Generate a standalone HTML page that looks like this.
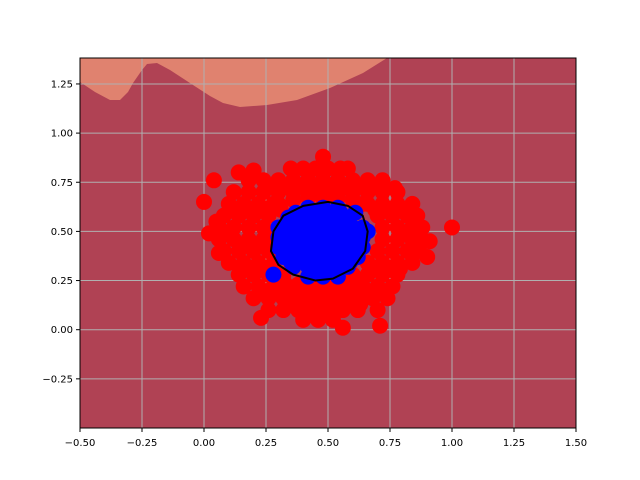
<!DOCTYPE html>
<html><head><meta charset="utf-8"><style>
body{margin:0;background:#fff;}
svg{display:block;font-family:"DejaVu Sans","Liberation Sans",sans-serif;}
</style></head><body>
<svg id="chart" width="640" height="480" viewBox="0 0 640 480" xmlns="http://www.w3.org/2000/svg">
<defs><clipPath id="clip"><rect x="80" y="58" width="496" height="370"/></clipPath></defs>
<rect x="0" y="0" width="640" height="480" fill="#fff"/>
<g clip-path="url(#clip)">
<rect x="80" y="58" width="496" height="370" fill="#b04254"/>
<path fill="#e0826f" d="M80,58 L80,82 L95,92 L110,100 L120,100 L128,92 L133,83 L142,70 L147,64 L157,63 L170,70 L193,85 L210,96 L223,103 L240,107 L267,105 L297,100 L330,88 L363,73 L387,58 Z"/>
<g id="grid"></g>
<g id="marks"></g>
</g>
<rect x="80" y="58" width="496" height="370" fill="none" stroke="#000" stroke-width="1"/>
<g id="axes"></g>
</svg>
<script>
const xTicks=[-0.5,-0.25,0,0.25,0.5,0.75,1,1.25,1.5];
const xTickLabels=["−0.50","−0.25","0.00","0.25","0.50","0.75","1.00","1.25","1.50"];
const yTicks=[-0.25,0,0.25,0.5,0.75,1,1.25];
const yTickLabels=["−0.25","0.00","0.25","0.50","0.75","1.00","1.25"];
const redX=[0.0,0.04,1.0,0.14,0.2,0.9,0.91,0.02,0.05,0.06,0.71,0.56,0.23,0.77,0.48,
0.35,0.4,0.45,0.5,0.55,0.58,
0.18,0.24,0.3,0.36,0.42,0.48,0.54,0.6,0.66,0.72,
0.12,0.18,0.24,0.3,0.36,0.42,0.48,0.54,0.6,0.66,0.72,0.78,
0.1,0.16,0.22,0.28,0.66,0.72,0.78,0.84,
0.08,0.14,0.2,0.26,0.7,0.76,0.82,0.86,
0.06,0.12,0.18,0.24,0.72,0.78,0.84,0.88,
0.06,0.12,0.18,0.24,0.72,0.78,0.84,0.88,
0.08,0.14,0.2,0.26,0.7,0.76,0.82,0.86,
0.1,0.16,0.22,0.28,0.66,0.72,0.78,0.84,
0.14,0.2,0.26,0.32,0.6,0.66,0.72,0.78,
0.16,0.22,0.28,0.34,0.4,0.46,0.52,0.58,0.64,0.7,0.76,
0.2,0.26,0.32,0.38,0.44,0.5,0.56,0.62,0.68,0.74,
0.26,0.32,0.38,0.44,0.5,0.56,0.62,0.7,
0.4,0.46,0.52,
0.13,0.19,0.25,0.31,0.69,0.75,0.81,0.15,0.21,0.27,0.67,0.73,0.79,0.11,0.17,0.23,0.29,0.81,0.87,
0.3,0.36,0.42,0.48,0.54,0.6,0.64,0.32,0.38,0.44,0.5,0.56,0.62,
0.27,0.33,0.39,0.45,0.51,0.57,0.63,0.69,0.23,0.29,0.35,0.41,0.47,0.53,0.59,0.65,0.71,0.33,0.39,0.45,0.51,0.57,0.63];
const redY=[0.65,0.76,0.52,0.8,0.81,0.37,0.45,0.49,0.55,0.39,0.02,0.01,0.06,0.72,0.88,
0.82,0.82,0.82,0.82,0.82,0.82,
0.76,0.76,0.76,0.76,0.76,0.76,0.76,0.76,0.76,0.76,
0.70,0.70,0.70,0.70,0.70,0.70,0.70,0.70,0.70,0.70,0.70,0.70,
0.64,0.64,0.64,0.64,0.64,0.64,0.64,0.64,
0.58,0.58,0.58,0.58,0.58,0.58,0.58,0.58,
0.52,0.52,0.52,0.52,0.52,0.52,0.52,0.52,
0.46,0.46,0.46,0.46,0.46,0.46,0.46,0.46,
0.40,0.40,0.40,0.40,0.40,0.40,0.40,0.40,
0.34,0.34,0.34,0.34,0.34,0.34,0.34,0.34,
0.28,0.28,0.28,0.28,0.28,0.28,0.28,0.28,
0.22,0.22,0.22,0.22,0.22,0.22,0.22,0.22,0.22,0.22,0.22,
0.16,0.16,0.16,0.16,0.16,0.16,0.16,0.16,0.16,0.16,
0.10,0.10,0.10,0.10,0.10,0.10,0.10,0.10,
0.05,0.05,0.05,
0.61,0.61,0.61,0.61,0.61,0.61,0.61,0.31,0.31,0.31,0.31,0.31,0.31,0.49,0.43,0.43,0.49,0.49,0.43,
0.64,0.66,0.67,0.67,0.67,0.66,0.64,0.25,0.23,0.23,0.23,0.23,0.25,
0.73,0.73,0.73,0.73,0.73,0.73,0.73,0.73,0.19,0.19,0.19,0.19,0.19,0.19,0.19,0.19,0.19,0.13,0.13,0.13,0.13,0.13,0.13];
const blueX=[0.42,0.48,0.54,0.34,0.4,0.46,0.52,0.58,
0.3,0.36,0.42,0.48,0.54,0.6,0.64,0.3,0.36,0.42,0.48,0.54,0.6,0.64,0.3,0.36,0.42,0.48,0.54,0.6,0.64,
0.32,0.38,0.44,0.5,0.56,0.62,0.36,0.42,0.48,0.54,0.58,0.42,0.48,0.54,0.66,0.28,
0.37,0.43,0.49,0.55,0.61,0.33,0.39,0.45,0.51,0.57,0.63,0.33,0.39,0.45,0.51,0.57,0.63,0.35,0.41,0.47,0.53,0.59,0.45,0.51];
const blueY=[0.62,0.62,0.62,0.57,0.57,0.57,0.57,0.57,
0.52,0.52,0.52,0.52,0.52,0.52,0.52,0.47,0.47,0.47,0.47,0.47,0.47,0.47,0.42,0.42,0.42,0.42,0.42,0.42,0.42,
0.37,0.37,0.37,0.37,0.37,0.37,0.32,0.32,0.32,0.32,0.32,0.27,0.27,0.27,0.5,0.28,
0.595,0.595,0.595,0.595,0.595,0.495,0.495,0.495,0.495,0.495,0.495,0.445,0.445,0.445,0.445,0.445,0.445,0.345,0.345,0.345,0.345,0.345,0.295,0.295];
const contourX=[0.27,0.28,0.32,0.4,0.5,0.58,0.64,0.66,0.65,0.6,0.52,0.45,0.36,0.3];
const contourY=[0.4,0.5,0.58,0.63,0.65,0.63,0.58,0.5,0.4,0.31,0.26,0.25,0.28,0.33];

const NS="http://www.w3.org/2000/svg";
const X0=-0.5,X1=1.5,Y0=-0.5,Y1=1.382,L=80,R=576,T=58,B=428;
const sx=v=>L+(v-X0)/(X1-X0)*(R-L);
const sy=v=>B-(v-Y0)/(Y1-Y0)*(B-T);
function mk(tag,attrs,parent){const e=document.createElementNS(NS,tag);for(const k in attrs)e.setAttribute(k,attrs[k]);parent.appendChild(e);return e;}
const grid=document.getElementById('grid'),marks=document.getElementById('marks'),axes=document.getElementById('axes');
xTicks.forEach((t,i)=>{
 const g=mk('line',{x1:sx(t),x2:sx(t),y1:T,y2:B,stroke:'#b0b0b0','stroke-width':1},grid);
 
 
 const k=mk('line',{x1:sx(t),x2:sx(t),y1:B,y2:B+4,stroke:'#000'},axes);
 
 
 const tx=mk('text',{x:sx(t),y:B+18,'font-size':10,'text-anchor':'middle',fill:'#000'},axes);
 tx.textContent=xTickLabels[i];
 
 
});
yTicks.forEach((t,i)=>{
 const g=mk('line',{x1:L,x2:R,y1:sy(t),y2:sy(t),stroke:'#b0b0b0','stroke-width':1},grid);
 
 
 const k=mk('line',{x1:L-4,x2:L,y1:sy(t),y2:sy(t),stroke:'#000'},axes);
 
 
 const tx=mk('text',{x:L-7,y:sy(t)+3.5,'font-size':10,'text-anchor':'end',fill:'#000'},axes);
 tx.textContent=yTickLabels[i];
 
 
});
redX.forEach((x,i)=>{
 const c=mk('circle',{cx:sx(x),cy:sy(redY[i]),r:8,fill:'#ff0000'},marks);
 
 
});
blueX.forEach((x,i)=>{
 const c=mk('circle',{cx:sx(x),cy:sy(blueY[i]),r:8,fill:'#0000ff'},marks);
 
 
});
const pts=contourX.map((x,i)=>sx(x)+','+sy(contourY[i])).join(' ');
const pc=mk('polygon',{points:pts,fill:'none',stroke:'#000','stroke-width':2,'stroke-linejoin':'round'},marks);


</script>
</body></html>
